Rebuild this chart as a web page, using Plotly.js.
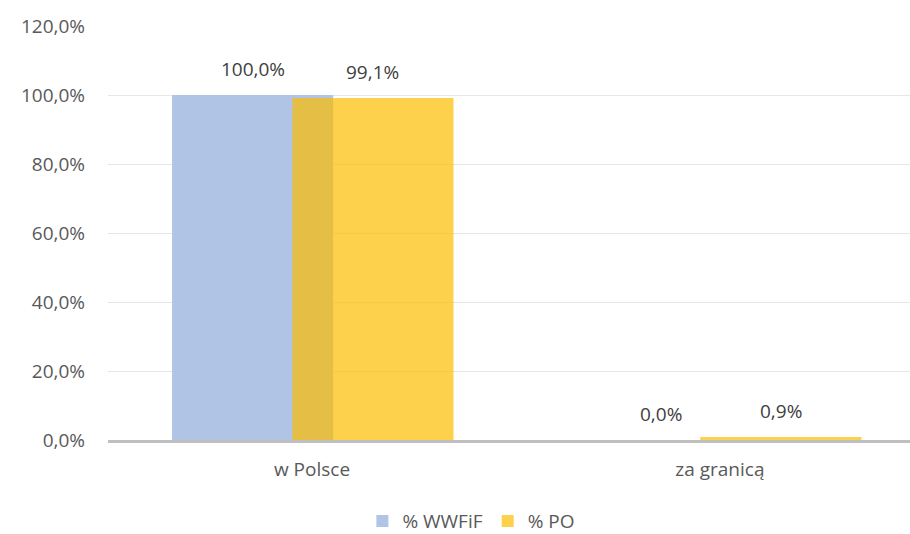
<!DOCTYPE html>
<html>
<head>
<meta charset="utf-8">
<script src="https://cdn.plot.ly/plotly-3.0.1.min.js"></script>
<style>html,body{margin:0;padding:0;background:#fff;}#chart{width:910px;height:534px;}</style>
</head>
<body>
<div id="chart"></div>
<script>
const categories = ["w Polsce", "za granicą"];
const seriesNames = ["% WWFiF", "% PO"];
const wwfifValues = [100.0, 0.0];
const poValues = [99.1, 0.9];
const yTickValues = [0, 20, 40, 60, 80, 100, 120];

const FONT = "'Open Sans', 'Noto Sans', sans-serif";
const FS = 19;
const barWidth = 0.395;
const offsets = [-0.343, -0.048];
const colors = ["rgba(176,196,230,1)", "rgba(252,190,0,0.7)"];
const fmt = v => v.toFixed(1).replace('.', ',') + '%';

const allValues = [wwfifValues, poValues];
const traces = allValues.map((vals, s) => ({
  type: 'bar',
  name: seriesNames[s],
  x: categories,
  y: vals,
  width: barWidth,
  offset: offsets[s],
  marker: {color: colors[s], line: {width: 0}},
  hoverinfo: 'skip'
}));

const annotations = [];
allValues.forEach((vals, s) => {
  vals.forEach((v, i) => {
    annotations.push({
      x: i + offsets[s] + barWidth / 2,
      y: v,
      xref: 'x', yref: 'y',
      text: fmt(v),
      showarrow: false,
      yshift: 26,
      font: {family: FONT, size: FS, color: '#404040'}
    });
  });
});

const layout = {
  width: 910, height: 534,
  margin: {l: 108, r: 0, t: 26, b: 94, autoexpand: false},
  paper_bgcolor: '#fff', plot_bgcolor: '#fff',
  barmode: 'overlay',
  showlegend: true,
  font: {family: FONT, size: FS, color: '#595959'},
  xaxis: {
    type: 'category',
    range: [-0.5, 1.466],
    showgrid: false,
    showline: true, linecolor: '#BFBFBF', linewidth: 3,
    ticks: '', ticklabelstandoff: 10,
    tickfont: {family: FONT, size: FS, color: '#595959'},
    zeroline: false, fixedrange: true, automargin: false
  },
  yaxis: {
    range: [0, 120],
    tickvals: yTickValues,
    ticktext: yTickValues.map(fmt),
    showgrid: true, gridcolor: '#E6E6E6', gridwidth: 1,
    zeroline: false, showline: false,
    ticks: '', ticklabelstandoff: 22,
    tickfont: {family: FONT, size: FS, color: '#595959'},
    fixedrange: true, automargin: false
  },
  legend: {
    orientation: 'h',
    xref: 'container', yref: 'container',
    x: 0.518, xanchor: 'center',
    y: 0.024, yanchor: 'middle',
    font: {family: FONT, size: FS, color: '#595959'},
    itemclick: false, itemdoubleclick: false
  },
  annotations: annotations
};

Plotly.newPlot('chart', traces, layout, {staticPlot: true, displayModeBar: false});
</script>
</body>
</html>
